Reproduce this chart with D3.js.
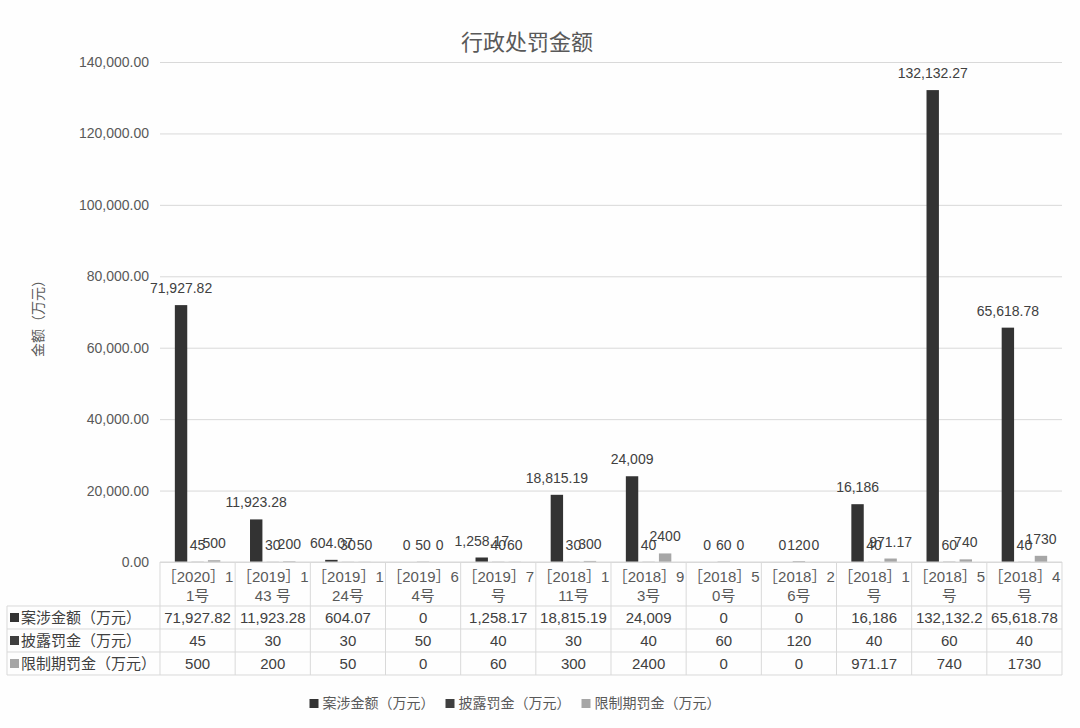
<!DOCTYPE html>
<html>
<head>
<meta charset="utf-8">
<script src="https://cdn.jsdelivr.net/npm/d3@7/dist/d3.min.js"></script>
<style>
  body { margin: 0; background: #fefefe; }
  svg { display: block; font-family: "Liberation Sans", "Noto Sans CJK SC", sans-serif; }
</style>
</head>
<body>
<div id="chart"></div>
<script>
// chart data
const categories = ['［2020］11号', '［2019］143 号', '［2019］124号', '［2019］64号', '［2019］7号', '［2018］111号',
  '［2018］93号', '［2018］50号', '［2018］26号', '［2018］1号', '［2018］5号', '［2018］4号'];
const seriesNames = ['案涉金额（万元）', '披露罚金（万元）', '限制期罚金（万元）'];
const caseAmount = [71927.82, 11923.28, 604.07, 0, 1258.17, 18815.19, 24009, 0, 0, 16186, 132132.27, 65618.78];
const disclosureFine = [45, 30, 30, 50, 40, 30, 40, 60, 120, 40, 60, 40];
const periodFine = [500, 200, 50, 0, 60, 300, 2400, 0, 0, 971.17, 740, 1730];
const yTicks = [0, 20000, 40000, 60000, 80000, 100000, 120000, 140000];
const colors = ['#333333', '#3f3f3f', '#a6a6a6'];

const seriesValues = [caseAmount, disclosureFine, periodFine];
const labelFmt = [d3.format(','), d => String(d), d => String(d)];

const W = 1080, H = 728;
const plotLeft = 160, plotRight = 1062, plotTop = 62, plotBottom = 562;
const rowH = 23, headH = 44;

const svg = d3.select('#chart').append('svg')
  .attr('width', W)
  .attr('height', H);

svg.append('rect').attr('width', W).attr('height', H).attr('fill', '#fefefe');

// title
svg.append('text')
  .attr('x', 527)
  .attr('y', 50)
  .attr('text-anchor', 'middle')
  .style('font-size', '22px')
  .style('fill', '#595959')
  .text('行政处罚金额');

// scales
const x0 = d3.scaleBand()
  .domain(categories)
  .range([plotLeft, plotRight])
  .paddingInner(0.395)
  .paddingOuter(0.1975);

const x1 = d3.scaleBand()
  .domain(d3.range(3))
  .range([0, x0.bandwidth()])
  .paddingInner(0.25);

const y = d3.scaleLinear()
  .domain([0, 140000])
  .range([plotBottom, plotTop]);

// y axis + gridlines
const yAxis = svg.append('g')
  .attr('transform', `translate(${plotLeft},0)`)
  .call(d3.axisLeft(y).tickValues(yTicks).tickFormat(d3.format(',.2f')).tickSize(-(plotRight - plotLeft)).tickPadding(11));
yAxis.select('.domain').remove();
yAxis.selectAll('line').attr('stroke', '#d9d9d9');
yAxis.selectAll('text')
  .style('font-size', '14px')
  .style('fill', '#595959')
  .style('font-family', '"Liberation Sans", sans-serif');

// y axis title
svg.append('text')
  .attr('transform', 'translate(43,315) rotate(-90)')
  .attr('text-anchor', 'middle')
  .style('font-size', '14px')
  .style('fill', '#595959')
  .text('金额（万元）');

// bars
const step = x0.step();
const groups = svg.append('g').selectAll('g')
  .data(categories)
  .enter()
  .append('g')
  .attr('transform', d => `translate(${x0(d)},0)`);

groups.selectAll('rect')
  .data((d, i) => seriesValues.map((s, k) => ({ k, v: s[i] })))
  .enter()
  .append('rect')
  .attr('x', d => x1(d.k))
  .attr('width', x1.bandwidth())
  .attr('y', d => y(d.v))
  .attr('height', d => plotBottom - y(d.v))
  .attr('fill', d => colors[d.k]);

groups.selectAll('text')
  .data((d, i) => seriesValues.map((s, k) => ({ k, v: s[i] })))
  .enter()
  .append('text')
  .attr('x', d => x1(d.k) + x1.bandwidth() / 2)
  .attr('y', d => y(d.v) - 12)
  .attr('text-anchor', 'middle')
  .style('font-size', '14px')
  .style('fill', '#404040')
  .text(d => labelFmt[d.k](d.v));

// data table
const table = svg.append('g');
const border = '#d9d9d9';
const tableBottom = plotBottom + headH + rowH * 3;

// horizontal lines
table.append('line').attr('x1', plotLeft).attr('x2', plotRight).attr('y1', plotBottom).attr('y2', plotBottom).attr('stroke', border);
[0, 1, 2, 3].forEach(r => {
  const yy = plotBottom + headH + r * rowH;
  table.append('line').attr('x1', 7).attr('x2', plotRight).attr('y1', yy).attr('y2', yy).attr('stroke', border);
});
// vertical lines
categories.forEach((c, i) => {
  const xx = plotLeft + i * step;
  table.append('line').attr('x1', xx).attr('x2', xx).attr('y1', plotBottom).attr('y2', tableBottom).attr('stroke', border);
});
table.append('line').attr('x1', plotRight).attr('x2', plotRight).attr('y1', plotBottom).attr('y2', tableBottom).attr('stroke', border);
table.append('line').attr('x1', 7).attr('x2', 7).attr('y1', plotBottom + headH).attr('y2', tableBottom).attr('stroke', border);

// header text (wrapped like the cell)
categories.forEach((c, i) => {
  const cx = plotLeft + i * step + step / 2;
  const t = table.append('text')
    .attr('text-anchor', 'middle')
    .style('font-size', '15px')
    .style('fill', '#595959');
  t.append('tspan').attr('x', cx).attr('y', plotBottom + 20).text(c.slice(0, 7));
  t.append('tspan').attr('x', cx).attr('y', plotBottom + 39).text(c.slice(7));
});

// row labels and values
seriesNames.forEach((name, r) => {
  const yy = plotBottom + headH + r * rowH + 17;
  table.append('rect')
    .attr('x', 10).attr('y', yy - 10)
    .attr('width', 9).attr('height', 9)
    .attr('fill', colors[r]);
  table.append('text')
    .attr('x', 21).attr('y', yy)
    .style('font-size', '15px')
    .style('fill', '#404040')
    .text(name);
  seriesValues[r].forEach((v, i) => {
    const cx = plotLeft + i * step + step / 2;
    const t = table.append('text')
      .attr('x', cx).attr('y', yy)
      .attr('text-anchor', 'middle')
      .style('font-size', '15px')
      .style('fill', '#404040')
      .text(labelFmt[r](v));
    // clip text that doesn't fit in the cell
    let s = t.text();
    while (t.node().getComputedTextLength() > step - 2 && s.length > 1) {
      s = s.slice(0, -1);
      t.text(s);
    }
  });
});

// legend
const legend = svg.append('g');
let lx = 0;
seriesNames.forEach((name, k) => {
  const item = legend.append('g').attr('transform', `translate(${lx},0)`);
  item.append('rect').attr('x', 0).attr('y', -9).attr('width', 9).attr('height', 9).attr('fill', colors[k]);
  const t = item.append('text')
    .attr('x', 13).attr('y', 0)
    .style('font-size', '14px')
    .style('fill', '#595959')
    .text(name);
  lx += 13 + t.node().getComputedTextLength() + 11;
});
const legendW = lx - 11;
legend.attr('transform', `translate(${515 - legendW / 2},708)`);
</script>
</body>
</html>
